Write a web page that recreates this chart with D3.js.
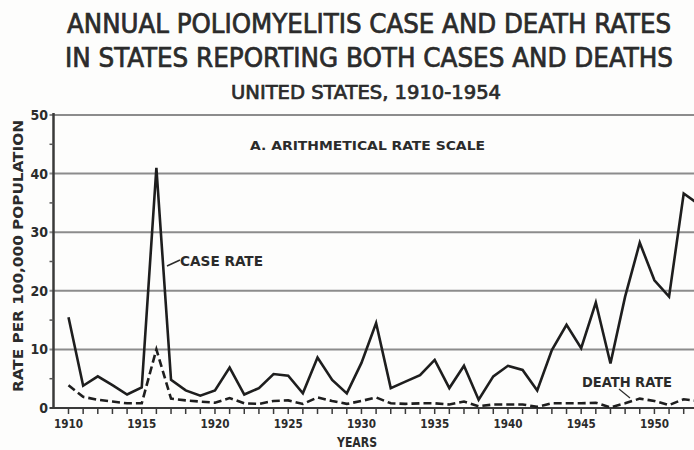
<!DOCTYPE html>
<html>
<head>
<meta charset="utf-8">
<script src="https://cdn.jsdelivr.net/npm/d3@7"></script>
<style>
  html, body { margin: 0; padding: 0; background: #fdfdfc; }
  svg { display: block; }
  text { font-family: "DejaVu Sans Condensed", "DejaVu Sans", sans-serif; fill: #2b2b2b; font-weight: bold; }
  text.title { font-weight: normal; stroke: #2b2b2b; stroke-width: 0.7; }
</style>
</head>
<body>
<svg id="chart" width="694" height="450"></svg>
<script>
// Annual poliomyelitis rates per 100,000 population, United States
const years = d3.range(1910, 1954);
const caseRate = [
  15.5, 3.8, 5.4, 3.9, 2.3, 3.5, 41.0, 4.8, 3.0, 2.1,
  3.0, 6.9, 2.3, 3.4, 5.8, 5.5, 2.5, 8.6, 4.8, 2.5,
  7.7, 14.5, 3.4, 4.5, 5.6, 8.2, 3.4, 7.2, 1.4, 5.4,
  7.2, 6.5, 3.0, 9.9, 14.2, 10.2, 18.0, 7.6, 19.0, 28.2,
  21.8, 19.0, 36.6, 34.8
];
const deathRate = [
  3.9, 1.9, 1.4, 1.1, 0.8, 0.8, 10.0, 1.6, 1.3, 1.1,
  0.9, 1.7, 0.8, 0.7, 1.2, 1.3, 0.7, 1.8, 1.2, 0.7,
  1.2, 1.8, 0.8, 0.7, 0.8, 0.8, 0.6, 1.1, 0.3, 0.6,
  0.6, 0.6, 0.2, 0.8, 0.8, 0.8, 0.9, 0.1, 0.8, 1.6,
  1.2, 0.5, 1.5, 1.2
];
const yTicks = [0, 10, 20, 30, 40, 50];
const yMinorTicks = [5, 15, 25, 35, 45];
const xLabelYears = [1910, 1915, 1920, 1925, 1930, 1935, 1940, 1945, 1950];

const titleLines = [
  "ANNUAL POLIOMYELITIS CASE AND DEATH RATES",
  "IN STATES REPORTING BOTH CASES AND DEATHS",
  "UNITED STATES, 1910-1954"
];

const svg = d3.select("#chart");
const W = 694;

const x = d3.scaleLinear().domain([1910, 1954]).range([68.5, 713]);
const y = d3.scaleLinear().domain([0, 50]).range([408, 115]);
const axisX = 53.5;

// Title block
const titleSpec = [
  { t: titleLines[0], cx: 369, by: 33, size: 27, len: 604 },
  { t: titleLines[1], cx: 369, by: 67, size: 27, len: 608 },
  { t: titleLines[2], cx: 366, by: 99, size: 20, len: 270 }
];
svg.selectAll("text.title").data(titleSpec).join("text")
  .attr("class", "title")
  .attr("x", d => d.cx).attr("y", d => d.by)
  .attr("text-anchor", "middle")
  .attr("font-size", d => d.size)
  .attr("textLength", d => d.len)
  .attr("lengthAdjust", "spacingAndGlyphs")
  .text(d => d.t);

// Horizontal grid lines
const plot = svg.append("g");
plot.selectAll("line.grid").data(yTicks.filter(v => v > 0)).join("line")
  .attr("class", "grid")
  .attr("x1", axisX - 4).attr("x2", W)
  .attr("y1", d => y(d)).attr("y2", d => y(d))
  .attr("stroke", "#8c8c8c").attr("stroke-width", 2);

// Zero line and left axis
plot.append("line")
  .attr("x1", axisX - 4).attr("x2", W)
  .attr("y1", y(0)).attr("y2", y(0))
  .attr("stroke", "#3a3a3a").attr("stroke-width", 2.2);
plot.append("line")
  .attr("x1", axisX).attr("x2", axisX)
  .attr("y1", y(50) - 2).attr("y2", y(0) + 1)
  .attr("stroke", "#3a3a3a").attr("stroke-width", 2.5);

// Y minor ticks
plot.selectAll("line.ymin").data(yMinorTicks).join("line")
  .attr("x1", axisX - 4).attr("x2", axisX)
  .attr("y1", d => y(d)).attr("y2", d => y(d))
  .attr("stroke", "#555").attr("stroke-width", 1.5);

// Y tick labels
svg.selectAll("text.ylab").data(yTicks).join("text")
  .attr("class", "ylab")
  .attr("x", 48).attr("y", d => y(d) + 5)
  .attr("text-anchor", "end")
  .attr("font-size", 14)
  .text(d => d);

// X ticks for every year
plot.selectAll("line.xt").data(d3.range(1910, 1954)).join("line")
  .attr("x1", d => x(d)).attr("x2", d => x(d))
  .attr("y1", y(0)).attr("y2", y(0) + 6)
  .attr("stroke", "#3a3a3a").attr("stroke-width", 1.5);

svg.selectAll("text.xlab").data(xLabelYears).join("text")
  .attr("class", "xlab")
  .attr("x", d => x(d)).attr("y", 428)
  .attr("text-anchor", "middle")
  .attr("font-size", 13)
  .attr("textLength", 29).attr("lengthAdjust", "spacingAndGlyphs")
  .text(d => d);

// Axis titles
svg.append("text")
  .attr("x", 357).attr("y", 447)
  .attr("text-anchor", "middle").attr("font-size", 14)
  .attr("textLength", 40).attr("lengthAdjust", "spacingAndGlyphs")
  .text("YEARS");
svg.append("text")
  .attr("transform", "translate(23,256) rotate(-90)")
  .attr("text-anchor", "middle").attr("font-size", 14)
  .attr("textLength", 272).attr("lengthAdjust", "spacingAndGlyphs")
  .text("RATE PER 100,000 POPULATION");

// Series lines
const line = d3.line().x((d, i) => x(years[i])).y(d => y(d)).curve(d3.curveLinear);
plot.append("path").datum(caseRate)
  .attr("d", line).attr("fill", "none")
  .attr("stroke", "#1e1e1e").attr("stroke-width", 2.6)
  .attr("stroke-linejoin", "miter");
plot.append("path").datum(deathRate)
  .attr("d", line).attr("fill", "none")
  .attr("stroke", "#1e1e1e").attr("stroke-width", 2.6)
  .attr("stroke-dasharray", "8,4");

// Annotations
svg.append("text")
  .attr("x", 250).attr("y", 150).attr("font-size", 12)
  .attr("textLength", 235).attr("lengthAdjust", "spacingAndGlyphs")
  .text("A. ARITHMETICAL RATE SCALE");
svg.append("text")
  .attr("x", 180).attr("y", 266).attr("font-size", 14)
  .attr("textLength", 83).attr("lengthAdjust", "spacingAndGlyphs")
  .text("CASE RATE");
svg.append("line")
  .attr("x1", 167).attr("y1", 266).attr("x2", 180).attr("y2", 260)
  .attr("stroke", "#2b2b2b").attr("stroke-width", 1.5);
svg.append("text")
  .attr("x", 582).attr("y", 387).attr("font-size", 14)
  .attr("textLength", 90).attr("lengthAdjust", "spacingAndGlyphs")
  .text("DEATH RATE");
svg.append("line")
  .attr("x1", 619).attr("y1", 389).attr("x2", 630).attr("y2", 398)
  .attr("stroke", "#2b2b2b").attr("stroke-width", 1.2);
</script>
</body>
</html>
